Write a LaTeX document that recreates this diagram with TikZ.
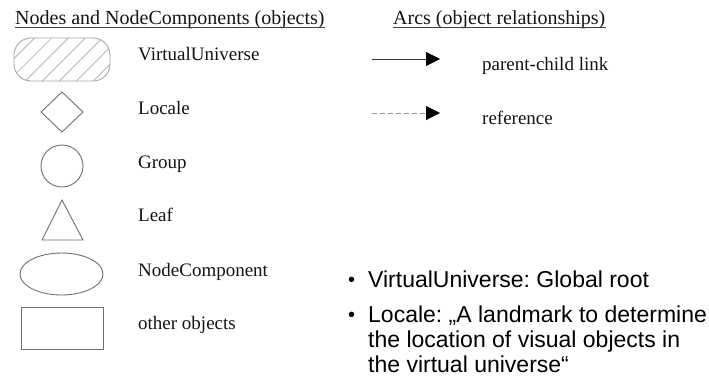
\documentclass[tikz,border=0pt]{standalone}
\usepackage{fontspec}
\setmainfont{Liberation Serif}
\newfontfamily\arialfont{Liberation Sans}
\usetikzlibrary{arrows.meta,patterns.meta}
\definecolor{shapegray}{HTML}{707070}
\definecolor{lightgray2}{HTML}{A8A8A8}
\definecolor{dashgray}{HTML}{9A9A9A}
\definecolor{txt}{HTML}{141414}
\frenchspacing
\begin{document}
\begin{tikzpicture}[x=1pt,y=-1pt,
  titletext/.style={anchor=base west,inner sep=0pt,text=txt,font=\fontsize{20}{24}\selectfont},
  labeltext/.style={anchor=base west,inner sep=0pt,text=txt,font=\fontsize{19}{22}\selectfont},
  bullettext/.style={anchor=base west,inner sep=0pt,text=black,font=\arialfont\fontsize{23}{25}\selectfont},
  bulletdot/.style={anchor=base west,inner sep=0pt,text=black,font=\arialfont\fontsize{20}{25}\selectfont},
  uline/.style={draw=txt!80,line width=0.8pt},
  outline/.style={draw=shapegray,line width=0.9pt},
  solidarc/.style={draw=black!80,line width=0.9pt,-{Triangle[length=14pt,width=14pt,color=black]}},
  dasharc/.style={draw=dashgray,line width=1pt,dash pattern=on 5pt off 3pt,-{Triangle[length=14pt,width=14pt,color=black]}}
]
\useasboundingbox[fill=white] (0,0) rectangle (709,378);

% titles
\node[titletext] (t1) at (15,24) {Nodes and NodeComponents (objects)};
\draw[uline] ([yshift=-3pt]t1.base west) -- ([yshift=-3pt]t1.base east);
\node[titletext] (t2) at (393,24) {Arcs (object relationships)};
\draw[uline] ([yshift=-3pt]t2.base west) -- ([yshift=-3pt]t2.base east);

% VirtualUniverse shape (hatched rounded rectangle)
\path[pattern={Lines[angle=45,distance=12pt,line width=0.7pt]},pattern color=lightgray2]
  [rounded corners=17pt] (14,38) rectangle (110,81);
\draw[draw=lightgray2,line width=0.9pt,rounded corners=17pt] (14,38) rectangle (110,81);

% Locale diamond
\draw[outline] (62,92) -- (83,112) -- (62,132) -- (41,112) -- cycle;
% Group circle
\draw[outline] (62,166) circle[radius=21];
% Leaf triangle
\draw[outline] (62,200) -- (83,240) -- (42,240) -- cycle;
% NodeComponent ellipse
\draw[outline] (61.5,274) ellipse[x radius=41.5,y radius=21];
% other objects rectangle
\draw[outline] (21,307) rectangle (103,349);

% labels
\node[labeltext] (lvu) at (138,60) {VirtualUniverse};
\node[labeltext] (lloc) at (138,114) {Locale};
\node[labeltext] (lgrp) at (138,168) {Group};
\node[labeltext] (lleaf) at (138,221) {Leaf};
\node[labeltext] (lnc) at (138,276) {NodeComponent};
\node[labeltext] (loth) at (138,329) {other objects};

% arcs
\coordinate (s1) at (372,59);
\coordinate (e1) at (440,59);
\draw[solidarc] (s1) -- (e1);
\coordinate (s2) at (372,113);
\coordinate (e2) at (440,113);
\draw[dasharc] (s2) -- (e2);
\node[labeltext] (lpc) at (482,70) {parent-child link};
\node[labeltext] (lref) at (482,124) {reference};

% bullets
\node[bulletdot] (b1) at (348,286) {•};
\node[bullettext] (b1t) at (368,287) {VirtualUniverse: Global root};
\node[bulletdot] (b2) at (348,321) {•};
\node[bullettext] (b2t) at (368,322) {Locale: „A landmark to determine};
\node[bullettext] (b2u) at (368,347) {the location of visual objects in};
\node[bullettext] (b2v) at (368,372) {the virtual universe“};
\end{tikzpicture}
\end{document}
